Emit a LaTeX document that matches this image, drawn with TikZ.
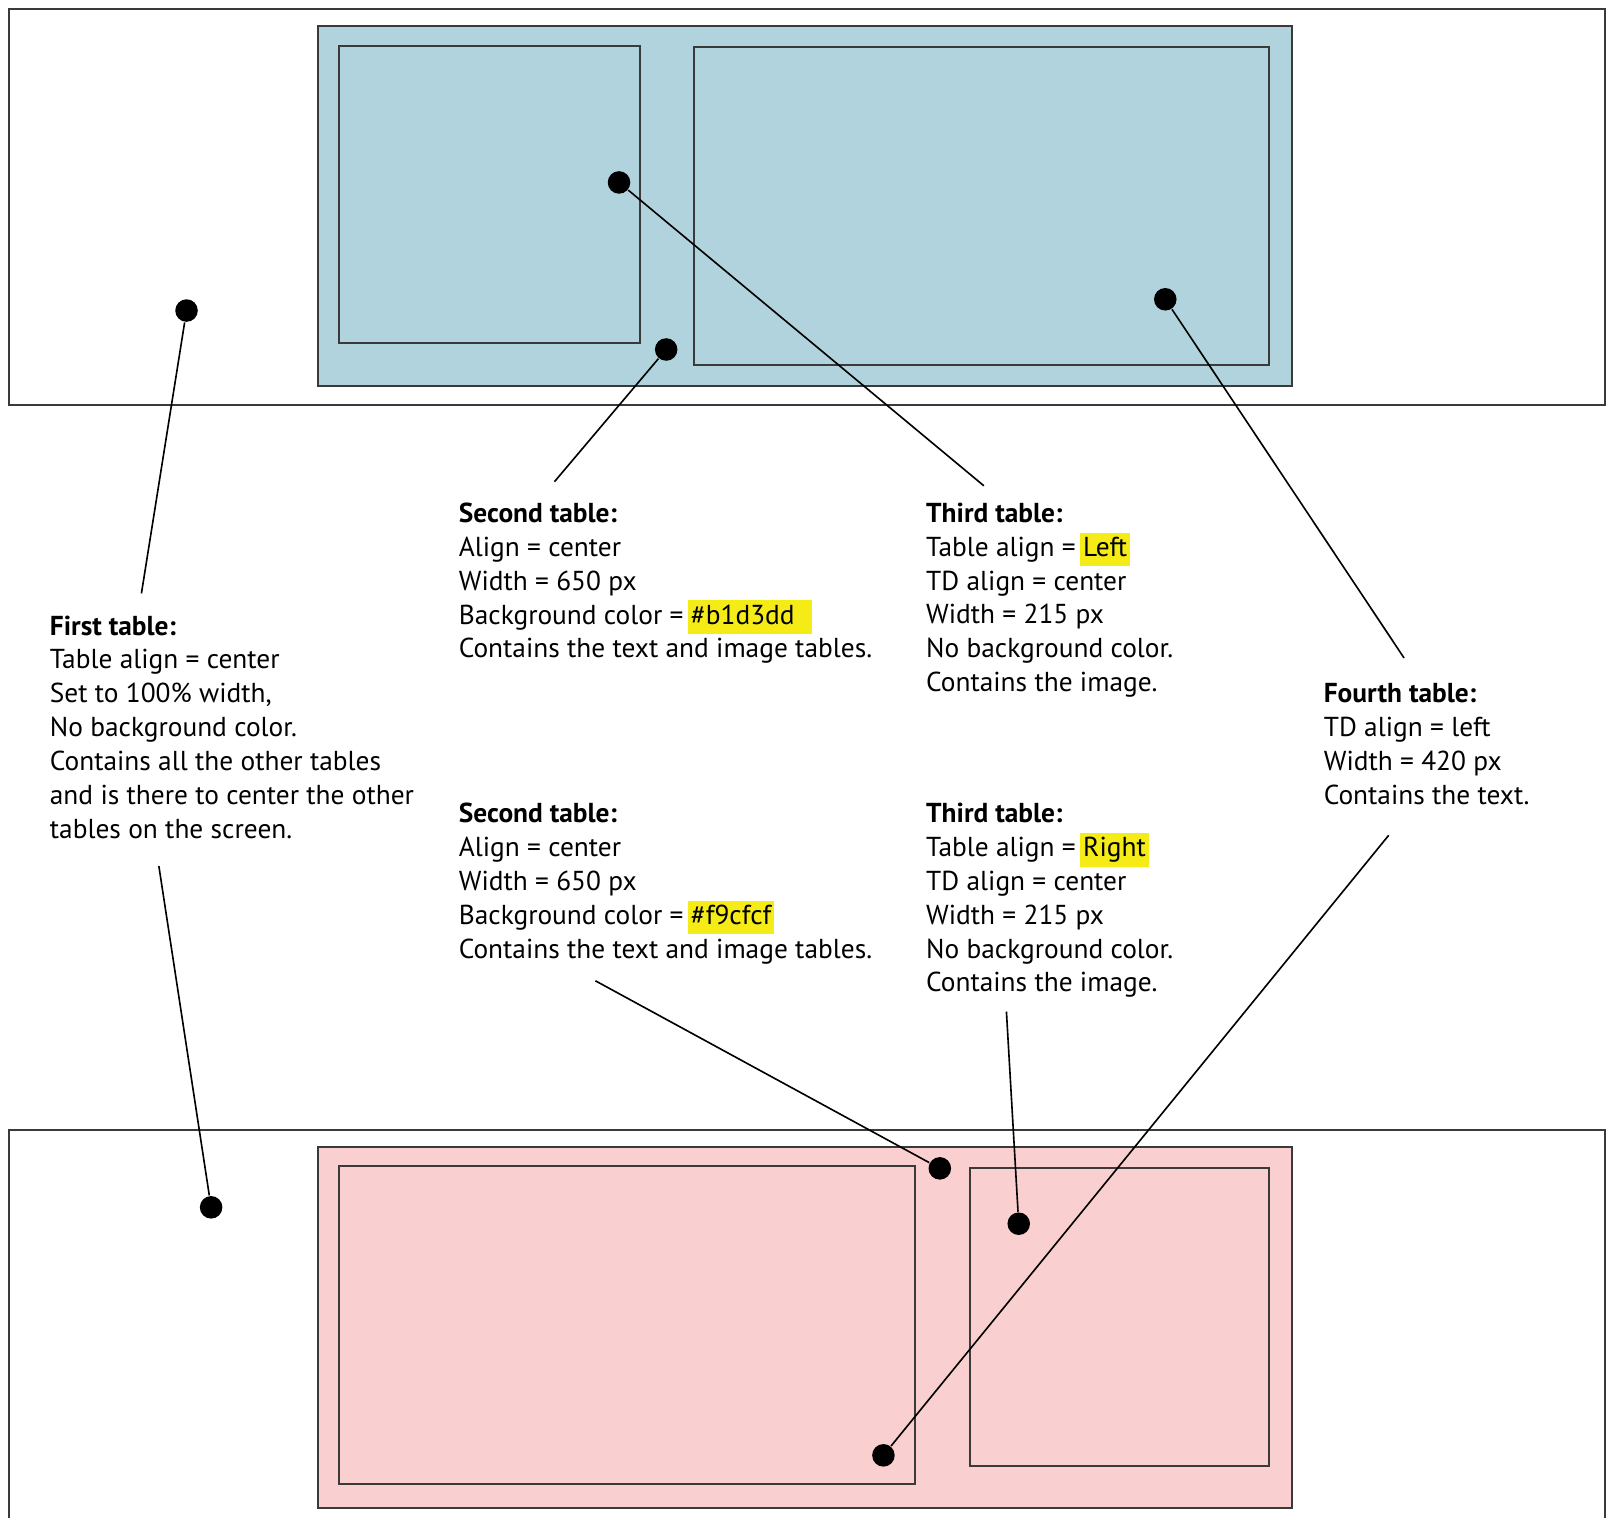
\documentclass[tikz,border=0pt]{standalone}
\usepackage{fontspec}
\setmainfont{PT Sans}
\usetikzlibrary{positioning}
\definecolor{tableblue}{HTML}{B1D3DD}
\definecolor{tablepink}{HTML}{F9CFCF}
\definecolor{marker}{HTML}{F5EB17}
\definecolor{framegray}{HTML}{3A3A3A}
\newcommand{\hl}[1]{{\setlength{\fboxsep}{0pt}\colorbox{marker}{\strut\hspace{0.8pt}#1\hspace{0.8pt}}}}

\begin{document}
\begin{tikzpicture}[x=0.1mm, y=-0.1mm,
    frame/.style={draw=framegray, line width=0.55pt},
    dotmark/.style={circle, fill=black, inner sep=0pt, minimum size=2.2mm},
    note/.style={align=left, anchor=north west, inner sep=0pt, font=\fontsize{7.6}{9.4}\selectfont},
    lead/.style={line width=0.45pt}]
    \useasboundingbox (0,0) rectangle (1568,1481);
    \fill[white] (0,0) rectangle (1568,1481);
    \draw[frame] (9,9) rectangle (1566,395);
    \draw[frame, fill=tableblue] (310,25) rectangle (1261,377);
    \draw[frame]
    (331,45) rectangle (624,335)
    (677,46) rectangle (1238,356);
    \draw[frame] (9,1103) rectangle (1566,1495);
    \draw[frame, fill=tablepink] (310,1119) rectangle (1261,1471);
    \draw[frame]
    (331,1138) rectangle (893,1448)
    (946,1140) rectangle (1238,1430);
    \node[note] (first) at (48,600) {\textbf{First table:}\\Table align = center\\Set to 100\% width,\\No background color.\\Contains all the other tables\\and is there to center the other\\tables on the screen.};
    \node[note] (secondA) at (447,490) {\textbf{Second table:}\\Align = center\\Width = 650 px\\Background color =\,\hl{\#b1d3dd\hspace{4pt}}\\Contains the text and image tables.};
    \node[note] (thirdA) at (903,490) {\textbf{Third table:}\\Table align =\,\hl{Left}\\TD align = center\\Width = 215 px\\No background color.\\Contains the image.};
    \node[note] (fourth) at (1291,666) {\textbf{Fourth table:}\\TD align = left\\Width = 420 px\\Contains the text.};
    \node[note] (secondB) at (447,783) {\textbf{Second table:}\\Align = center\\Width = 650 px\\Background color =\,\hl{\#f9cfcf}\\Contains the text and image tables.};
    \node[note] (thirdB) at (903,783) {\textbf{Third table:}\\Table align =\,\hl{Right}\\TD align = center\\Width = 215 px\\No background color.\\Contains the image.};
    \node[dotmark] (outerA) at (182,303) {};
    \node[dotmark] (leftcellA) at (604,178) {};
    \node[dotmark] (blueT) at (650,341) {};
    \node[dotmark] (rightcellA) at (1137,292) {};
    \node[dotmark] (outerB) at (206,1178) {};
    \node[dotmark] (pinkT) at (917,1140) {};
    \node[dotmark] (rightcellB) at (994,1194) {};
    \node[dotmark] (leftcellB) at (862,1420) {};
    \coordinate (firstUp) at (138,579);
    \coordinate (firstDown) at (155,845);
    \coordinate (secondUp) at (541,470);
    \coordinate (thirdUp) at (960,474);
    \coordinate (fourthUp) at (1370,642);
    \coordinate (secondDown) at (581,957);
    \coordinate (thirdDown) at (982,987);
    \coordinate (fourthDown) at (1355,815);
    \draw[lead]
    (outerA) -- (firstUp)
    (blueT) -- (secondUp)
    (leftcellA) -- (thirdUp)
    (rightcellA) -- (fourthUp)
    (firstDown) -- (outerB)
    (secondDown) -- (pinkT)
    (thirdDown) -- (rightcellB)
    (fourthDown) -- (leftcellB);
\end{tikzpicture}
\end{document}
